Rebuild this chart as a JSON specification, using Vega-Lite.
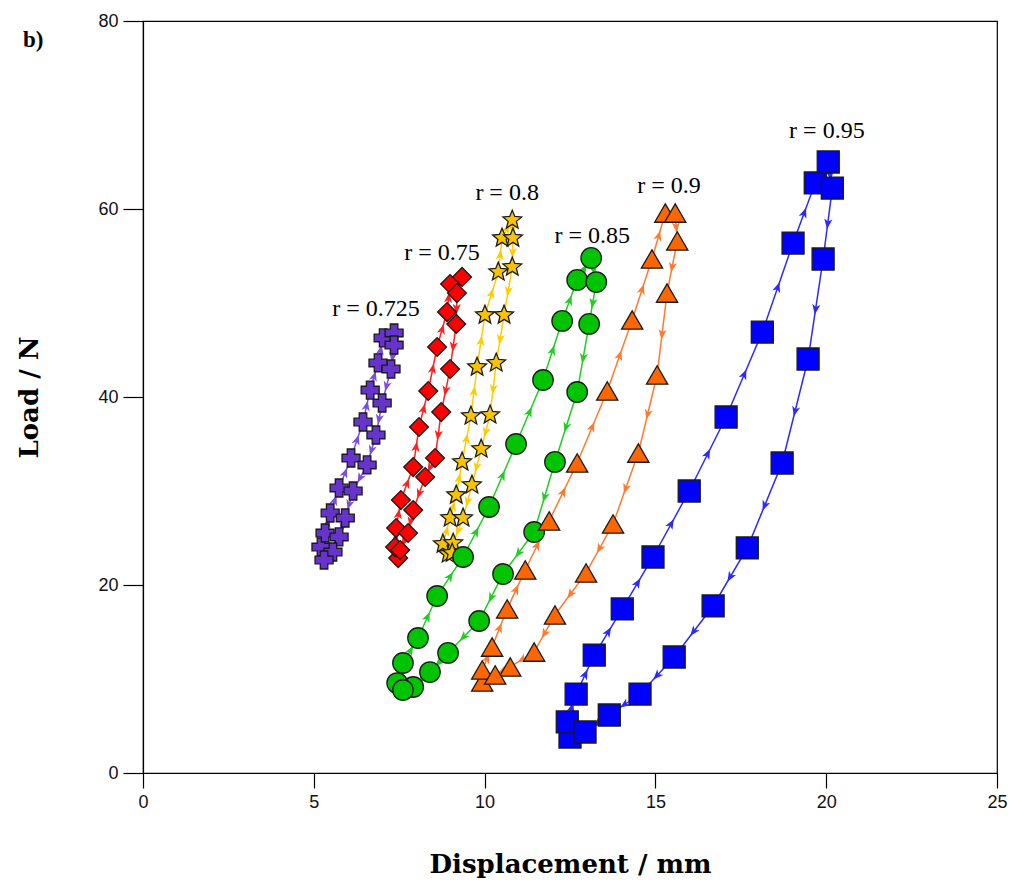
{
  "$schema": "https://vega.github.io/schema/vega-lite/v6.json",
  "width": 854,
  "height": 752,
  "autosize": {"type": "none"},
  "padding": {"left": 143, "top": 21, "right": 20, "bottom": 112},
  "background": "white",
  "config": {
    "view": {"stroke": "#000", "strokeWidth": 1.2},
    "axis": {"grid": false, "labelFlush": false, "domainColor": "#000", "domainWidth": 1.2, "tickColor": "#000", "tickWidth": 1.2, "labelColor": "#111", "titleColor": "#000", "labelFont": "Liberation Sans", "labelFontSize": 18, "titleFont": "DejaVu Serif", "titleFontSize": 26, "titleFontWeight": "bold"}
  },
  "resolve": {"scale": {"color": "independent"}},
  "title": {"text": "b)", "anchor": "start", "frame": "group", "font": "Liberation Serif", "fontSize": 23, "fontWeight": "bold", "color": "#000", "dx": -120, "dy": 40, "offset": 0},
  "datasets": {
    "curves": [
      {"s": "0.725", "o": 1, "x": 5.21, "y": 24.04},
      {"s": "0.725", "o": 2, "x": 5.33, "y": 25.53},
      {"s": "0.725", "o": 3, "x": 5.48, "y": 27.66},
      {"s": "0.725", "o": 4, "x": 5.74, "y": 30.32},
      {"s": "0.725", "o": 5, "x": 6.09, "y": 33.51},
      {"s": "0.725", "o": 6, "x": 6.44, "y": 37.34},
      {"s": "0.725", "o": 7, "x": 6.65, "y": 40.74},
      {"s": "0.725", "o": 8, "x": 6.88, "y": 43.62},
      {"s": "0.725", "o": 9, "x": 7.03, "y": 46.28},
      {"s": "0.725", "o": 10, "x": 7.35, "y": 46.81},
      {"s": "0.725", "o": 11, "x": 7.35, "y": 45.53},
      {"s": "0.725", "o": 12, "x": 7.26, "y": 42.98},
      {"s": "0.725", "o": 13, "x": 7.0, "y": 39.36},
      {"s": "0.725", "o": 14, "x": 6.82, "y": 35.96},
      {"s": "0.725", "o": 15, "x": 6.56, "y": 32.77},
      {"s": "0.725", "o": 16, "x": 6.15, "y": 30.0},
      {"s": "0.725", "o": 17, "x": 5.92, "y": 27.13},
      {"s": "0.725", "o": 18, "x": 5.74, "y": 25.11},
      {"s": "0.725", "o": 19, "x": 5.56, "y": 23.51},
      {"s": "0.725", "o": 20, "x": 5.3, "y": 22.66},

      {"s": "0.75", "o": 1, "x": 7.47, "y": 22.87},
      {"s": "0.75", "o": 2, "x": 7.38, "y": 24.04},
      {"s": "0.75", "o": 3, "x": 7.41, "y": 26.06},
      {"s": "0.75", "o": 4, "x": 7.55, "y": 29.04},
      {"s": "0.75", "o": 5, "x": 7.91, "y": 32.55},
      {"s": "0.75", "o": 6, "x": 8.08, "y": 36.81},
      {"s": "0.75", "o": 7, "x": 8.35, "y": 40.64},
      {"s": "0.75", "o": 8, "x": 8.61, "y": 45.32},
      {"s": "0.75", "o": 9, "x": 8.9, "y": 49.04},
      {"s": "0.75", "o": 10, "x": 8.99, "y": 52.02},
      {"s": "0.75", "o": 11, "x": 9.34, "y": 52.77},
      {"s": "0.75", "o": 12, "x": 9.19, "y": 51.06},
      {"s": "0.75", "o": 13, "x": 9.17, "y": 47.77},
      {"s": "0.75", "o": 14, "x": 8.99, "y": 42.98},
      {"s": "0.75", "o": 15, "x": 8.73, "y": 38.4},
      {"s": "0.75", "o": 16, "x": 8.55, "y": 33.51},
      {"s": "0.75", "o": 17, "x": 8.26, "y": 31.49},
      {"s": "0.75", "o": 18, "x": 7.91, "y": 27.98},
      {"s": "0.75", "o": 19, "x": 7.76, "y": 25.53},
      {"s": "0.75", "o": 20, "x": 7.53, "y": 23.72},

      {"s": "0.8", "o": 1, "x": 8.93, "y": 23.3},
      {"s": "0.8", "o": 2, "x": 8.78, "y": 24.36},
      {"s": "0.8", "o": 3, "x": 8.99, "y": 27.13},
      {"s": "0.8", "o": 4, "x": 9.17, "y": 29.57},
      {"s": "0.8", "o": 5, "x": 9.34, "y": 33.09},
      {"s": "0.8", "o": 6, "x": 9.6, "y": 37.98},
      {"s": "0.8", "o": 7, "x": 9.78, "y": 43.19},
      {"s": "0.8", "o": 8, "x": 10.01, "y": 48.72},
      {"s": "0.8", "o": 9, "x": 10.4, "y": 53.3},
      {"s": "0.8", "o": 10, "x": 10.51, "y": 56.91},
      {"s": "0.8", "o": 11, "x": 10.81, "y": 58.83},
      {"s": "0.8", "o": 12, "x": 10.83, "y": 56.91},
      {"s": "0.8", "o": 13, "x": 10.81, "y": 53.83},
      {"s": "0.8", "o": 14, "x": 10.57, "y": 48.72},
      {"s": "0.8", "o": 15, "x": 10.34, "y": 43.62},
      {"s": "0.8", "o": 16, "x": 10.16, "y": 38.09},
      {"s": "0.8", "o": 17, "x": 9.9, "y": 34.47},
      {"s": "0.8", "o": 18, "x": 9.63, "y": 30.64},
      {"s": "0.8", "o": 19, "x": 9.37, "y": 27.13},
      {"s": "0.8", "o": 20, "x": 9.08, "y": 24.47},
      {"s": "0.8", "o": 21, "x": 9.05, "y": 23.4},

      {"s": "0.85", "o": 1, "x": 7.44, "y": 9.57},
      {"s": "0.85", "o": 2, "x": 7.61, "y": 11.7},
      {"s": "0.85", "o": 3, "x": 8.05, "y": 14.36},
      {"s": "0.85", "o": 4, "x": 8.61, "y": 18.83},
      {"s": "0.85", "o": 5, "x": 9.37, "y": 22.98},
      {"s": "0.85", "o": 6, "x": 10.13, "y": 28.3},
      {"s": "0.85", "o": 7, "x": 10.92, "y": 35.0},
      {"s": "0.85", "o": 8, "x": 11.71, "y": 41.81},
      {"s": "0.85", "o": 9, "x": 12.27, "y": 48.09},
      {"s": "0.85", "o": 10, "x": 12.71, "y": 52.45},
      {"s": "0.85", "o": 11, "x": 13.12, "y": 54.79},
      {"s": "0.85", "o": 12, "x": 13.27, "y": 52.23},
      {"s": "0.85", "o": 13, "x": 13.06, "y": 47.77},
      {"s": "0.85", "o": 14, "x": 12.71, "y": 40.53},
      {"s": "0.85", "o": 15, "x": 12.06, "y": 33.09},
      {"s": "0.85", "o": 16, "x": 11.45, "y": 25.64},
      {"s": "0.85", "o": 17, "x": 10.54, "y": 21.17},
      {"s": "0.85", "o": 18, "x": 9.84, "y": 16.17},
      {"s": "0.85", "o": 19, "x": 8.93, "y": 12.77},
      {"s": "0.85", "o": 20, "x": 8.4, "y": 10.74},
      {"s": "0.85", "o": 21, "x": 7.91, "y": 9.15},
      {"s": "0.85", "o": 22, "x": 7.61, "y": 8.83},

      {"s": "0.9", "o": 1, "x": 9.93, "y": 9.68},
      {"s": "0.9", "o": 2, "x": 9.93, "y": 10.96},
      {"s": "0.9", "o": 3, "x": 10.22, "y": 13.4},
      {"s": "0.9", "o": 4, "x": 10.66, "y": 17.45},
      {"s": "0.9", "o": 5, "x": 11.19, "y": 21.6},
      {"s": "0.9", "o": 6, "x": 11.89, "y": 26.81},
      {"s": "0.9", "o": 7, "x": 12.71, "y": 32.98},
      {"s": "0.9", "o": 8, "x": 13.59, "y": 40.64},
      {"s": "0.9", "o": 9, "x": 14.32, "y": 48.19},
      {"s": "0.9", "o": 10, "x": 14.9, "y": 54.68},
      {"s": "0.9", "o": 11, "x": 15.29, "y": 59.57},
      {"s": "0.9", "o": 12, "x": 15.58, "y": 59.57},
      {"s": "0.9", "o": 13, "x": 15.64, "y": 56.6},
      {"s": "0.9", "o": 14, "x": 15.34, "y": 51.06},
      {"s": "0.9", "o": 15, "x": 15.05, "y": 42.34},
      {"s": "0.9", "o": 16, "x": 14.5, "y": 34.04},
      {"s": "0.9", "o": 17, "x": 13.76, "y": 26.49},
      {"s": "0.9", "o": 18, "x": 12.97, "y": 21.28},
      {"s": "0.9", "o": 19, "x": 12.06, "y": 16.81},
      {"s": "0.9", "o": 20, "x": 11.45, "y": 12.87},
      {"s": "0.9", "o": 21, "x": 10.75, "y": 11.28},
      {"s": "0.9", "o": 22, "x": 10.31, "y": 10.43},

      {"s": "0.95", "o": 1, "x": 12.5, "y": 3.83},
      {"s": "0.95", "o": 2, "x": 12.42, "y": 5.43},
      {"s": "0.95", "o": 3, "x": 12.68, "y": 8.4},
      {"s": "0.95", "o": 4, "x": 13.21, "y": 12.55},
      {"s": "0.95", "o": 5, "x": 14.03, "y": 17.45},
      {"s": "0.95", "o": 6, "x": 14.93, "y": 22.98},
      {"s": "0.95", "o": 7, "x": 15.99, "y": 30.0},
      {"s": "0.95", "o": 8, "x": 17.07, "y": 37.87},
      {"s": "0.95", "o": 9, "x": 18.13, "y": 46.91},
      {"s": "0.95", "o": 10, "x": 19.03, "y": 56.38},
      {"s": "0.95", "o": 11, "x": 19.68, "y": 62.77},
      {"s": "0.95", "o": 12, "x": 20.06, "y": 65.0},
      {"s": "0.95", "o": 13, "x": 20.18, "y": 62.23},
      {"s": "0.95", "o": 14, "x": 19.91, "y": 54.68},
      {"s": "0.95", "o": 15, "x": 19.47, "y": 44.04},
      {"s": "0.95", "o": 16, "x": 18.71, "y": 32.98},
      {"s": "0.95", "o": 17, "x": 17.69, "y": 23.94},
      {"s": "0.95", "o": 18, "x": 16.69, "y": 17.77},
      {"s": "0.95", "o": 19, "x": 15.55, "y": 12.34},
      {"s": "0.95", "o": 20, "x": 14.55, "y": 8.4},
      {"s": "0.95", "o": 21, "x": 13.65, "y": 6.17},
      {"s": "0.95", "o": 22, "x": 12.94, "y": 4.36}
    ],
    "labels": [
      {"x": 6.82, "y": 49.36, "label": "r = 0.725"},
      {"x": 8.75, "y": 55.32, "label": "r = 0.75"},
      {"x": 10.66, "y": 61.7, "label": "r = 0.8"},
      {"x": 13.15, "y": 57.13, "label": "r = 0.85"},
      {"x": 15.4, "y": 62.45, "label": "r = 0.9"},
      {"x": 20.02, "y": 68.3, "label": "r = 0.95"}
    ]
  },
  "layer": [
    {
      "data": {"name": "curves"},
      "mark": {"type": "line", "strokeWidth": 1.5},
      "encoding": {
        "x": {"field": "x", "type": "quantitative", "scale": {"domain": [0, 25], "nice": false}, "title": "Displacement / mm", "axis": {"values": [0, 5, 10, 15, 20, 25], "tickSize": 15, "labelPadding": 5, "titlePadding": 40}},
        "y": {"field": "y", "type": "quantitative", "scale": {"domain": [0, 80], "nice": false}, "title": "Load / N", "axis": {"values": [0, 20, 40, 60, 80], "tickSize": 20, "labelPadding": 5, "titlePadding": 55}},
        "color": {"field": "s", "type": "nominal", "scale": {"domain": ["0.725", "0.75", "0.8", "0.85", "0.9", "0.95"], "range": ["#7a4fe0", "#ff2020", "#ffcc00", "#22cc22", "#ff7a30", "#2a2aff"]}, "legend": null},
        "detail": {"field": "s"},
        "order": {"field": "o", "type": "quantitative"}
      }
    },
    {
      "data": {"name": "curves"},
      "transform": [
        {"window": [{"op": "lead", "field": "x", "as": "x2"}, {"op": "lead", "field": "y", "as": "y2"}], "groupby": ["s"], "sort": [{"field": "o"}]},
        {"filter": "datum.x2 != null"},
        {"calculate": "(datum.x + datum.x2) / 2", "as": "mx"},
        {"calculate": "(datum.y + datum.y2) / 2", "as": "my"},
        {"calculate": "atan2((datum.x2 - datum.x) * 34.16, (datum.y2 - datum.y) * 9.4) * 180 / PI", "as": "ang"}
      ],
      "mark": {"type": "point", "shape": "M0,-1L0.75,0.85L0,0.35L-0.75,0.85Z", "filled": true, "size": 120, "opacity": 1},
      "encoding": {
        "x": {"field": "mx", "type": "quantitative", "title": "Displacement / mm"},
        "y": {"field": "my", "type": "quantitative", "title": "Load / N"},
        "color": {"field": "s", "type": "nominal", "scale": {"domain": ["0.725", "0.75", "0.8", "0.85", "0.9", "0.95"], "range": ["#7a4fe0", "#ff2020", "#ffcc00", "#22cc22", "#ff7a30", "#2a2aff"]}, "legend": null},
        "angle": {"field": "ang", "type": "quantitative", "scale": null}
      }
    },
    {
      "data": {"name": "curves"},
      "mark": {"type": "point", "filled": true, "stroke": "#1a1a1a", "strokeWidth": 1.3, "opacity": 1, "strokeOpacity": 1},
      "encoding": {
        "x": {"field": "x", "type": "quantitative", "title": "Displacement / mm"},
        "y": {"field": "y", "type": "quantitative", "title": "Load / N"},
        "color": {"field": "s", "type": "nominal", "scale": {"domain": ["0.725", "0.75", "0.8", "0.85", "0.9", "0.95"], "range": ["#6633cc", "#ff0000", "#f8c400", "#00c400", "#ff6600", "#0000ff"]}, "legend": null},
        "shape": {"field": "s", "type": "nominal", "scale": {"domain": ["0.725", "0.75", "0.8", "0.85", "0.9", "0.95"], "range": ["M-0.42,-1H0.42V-0.42H1V0.42H0.42V1H-0.42V0.42H-1V-0.42H-0.42Z", "diamond", "M0,-1L0.26,-0.36L0.951,-0.309L0.42,0.14L0.588,0.809L0,0.44L-0.588,0.809L-0.42,0.14L-0.951,-0.309L-0.26,-0.36Z", "circle", "triangle-up", "square"]}, "legend": null},
        "size": {"field": "s", "type": "ordinal", "scale": {"domain": ["0.725", "0.75", "0.8", "0.85", "0.9", "0.95"], "range": [324, 484, 484, 361, 529, 400]}, "legend": null}
      }
    },
    {
      "data": {"name": "labels"},
      "mark": {"type": "text", "font": "Liberation Serif", "fontSize": 24, "align": "center", "baseline": "middle", "color": "#000"},
      "encoding": {
        "x": {"field": "x", "type": "quantitative", "title": "Displacement / mm"},
        "y": {"field": "y", "type": "quantitative", "title": "Load / N"},
        "text": {"field": "label", "type": "nominal"}
      }
    }
  ]
}
